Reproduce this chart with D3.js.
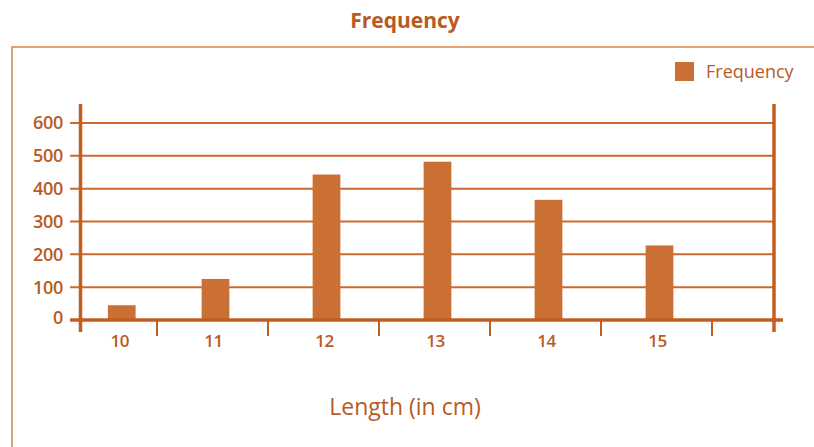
<!DOCTYPE html>
<html><head><meta charset="utf-8">
<script src="https://cdn.jsdelivr.net/npm/d3@7"></script>
<style>
html,body{margin:0;padding:0;background:#fff;}
svg{display:block;font-family:"Open Sans",Lato,sans-serif;}
</style></head>
<body><svg id="c" width="814" height="447"></svg>
<script>
const categories = [10, 11, 12, 13, 14, 15];
const frequency = [45, 125, 443, 482, 366, 227];
const yTicks = [0, 100, 200, 300, 400, 500, 600];
const chartTitle = "Frequency";
const seriesName = "Frequency";
const xTitle = "Length (in cm)";

(function () {
const svg = d3.select("#c");
const barColor = "#cb7035", axisColor = "#c45e1e", textColor = "#b95a1e", gridColor = "#cc6a2c";

const plotLeft = 80.5, plotRight = 774, plotTop = 104, axisBottom = 332;
const x = d3.scaleLinear().domain([9.5, 16.5]).range([46, 823]);
const y = d3.scaleLinear().domain([0, 600]).range([320, 123]);

// outer frame
svg.append("rect").attr("x", 12).attr("y", 47).attr("width", 830).attr("height", 430)
  .attr("fill", "none").attr("stroke", "#e2a276").attr("stroke-width", 2);

// title
svg.append("text").attr("x", 405).attr("y", 28).attr("text-anchor", "middle")
  .attr("font-size", 21).attr("font-weight", 700).attr("fill", textColor).text(chartTitle);

// gridlines
svg.selectAll("line.grid").data(yTicks.filter(d => d > 0)).join("line")
  .attr("class", "grid").attr("x1", 70).attr("x2", plotRight)
  .attr("y1", d => y(d)).attr("y2", d => y(d))
  .attr("stroke", gridColor).attr("stroke-width", 2);

// y tick labels
svg.selectAll("text.yt").data(yTicks).join("text")
  .attr("class", "yt").attr("x", 63).attr("y", d => d === 0 ? y(d) - 2 : y(d))
  .attr("dy", "0.36em").attr("text-anchor", "end")
  .attr("font-size", 18).attr("font-weight", 600).attr("fill", textColor)
  .attr("letter-spacing", -0.3)
  .text(d => d);

// bars
const bw = 0.25 * (x(1) - x(0));
const center = d => {
  const a = Math.max(x(d - 0.5), plotLeft), b = Math.min(x(d + 0.5), plotRight);
  return (a + b) / 2 + 3;
};
svg.selectAll("rect.bar").data(categories).join("rect")
  .attr("class", "bar")
  .attr("x", d => center(d) - bw / 2)
  .attr("width", bw)
  .attr("y", (d, i) => y(frequency[i]))
  .attr("height", (d, i) => y(0) - y(frequency[i]))
  .attr("fill", barColor);

// axes lines
svg.append("line").attr("x1", plotLeft).attr("x2", plotLeft).attr("y1", plotTop).attr("y2", axisBottom)
  .attr("stroke", axisColor).attr("stroke-width", 3.5);
svg.append("line").attr("x1", plotRight).attr("x2", plotRight).attr("y1", plotTop).attr("y2", axisBottom)
  .attr("stroke", axisColor).attr("stroke-width", 3.5);
svg.append("line").attr("x1", 70).attr("x2", 783).attr("y1", y(0)).attr("y2", y(0))
  .attr("stroke", axisColor).attr("stroke-width", 3.5);

// x tick marks at category boundaries
const bounds = categories.map(d => d + 0.5);
svg.selectAll("line.xt").data(bounds).join("line")
  .attr("class", "xt").attr("x1", d => x(d)).attr("x2", d => x(d))
  .attr("y1", y(0)).attr("y2", y(0) + 16)
  .attr("stroke", axisColor).attr("stroke-width", 2);

// x labels
svg.selectAll("text.xl").data(categories).join("text")
  .attr("class", "xl").attr("x", d => center(d) - 2).attr("y", 347)
  .attr("text-anchor", "middle").attr("font-size", 17).attr("font-weight", 600)
  .attr("letter-spacing", -0.5)
  .attr("fill", textColor).text(d => d);

// x title
svg.append("text").attr("x", 405).attr("y", 415).attr("text-anchor", "middle")
  .attr("font-size", 23).attr("fill", textColor).text(xTitle);

// legend
svg.append("rect").attr("x", 675).attr("y", 62).attr("width", 19).attr("height", 19).attr("fill", barColor);
svg.append("text").attr("x", 706).attr("y", 72).attr("dy", "0.35em")
  .attr("font-size", 18).attr("font-weight", 400).attr("fill", textColor).text(seriesName);
})();
</script></body></html>
